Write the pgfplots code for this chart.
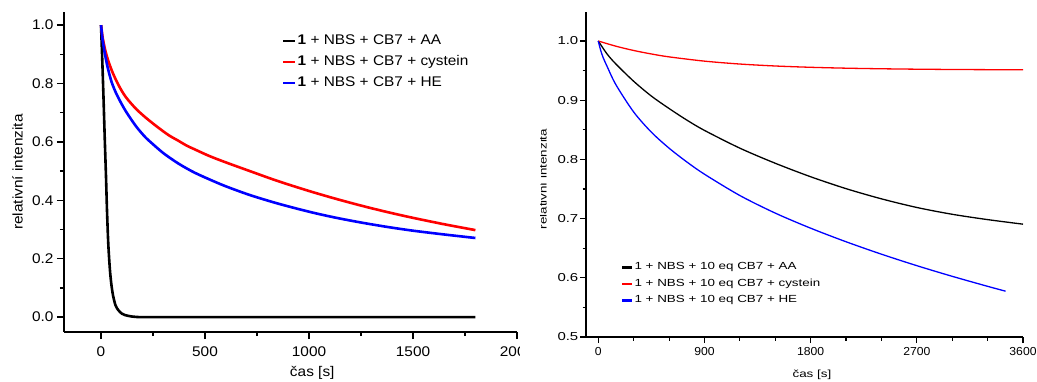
\documentclass[border=0pt]{standalone}
\usepackage{pgfplots}
\pgfplotsset{compat=1.18}
\usepackage{fontspec}
\setmainfont{Liberation Sans}
\newfontfamily\lfont[FakeStretch=1.1]{Liberation Sans}
\newfontfamily\rfont[FakeStretch=1.3]{Liberation Sans}
\newfontfamily\xfont[FakeStretch=1.05]{Liberation Sans}
\newcommand\lsize{\lfont\fontsize{14}{16}\selectfont}
\newcommand\rtick{\rfont\fontsize{11.5}{13}\selectfont}
\newcommand\rxtick{\xfont\fontsize{11.6}{13}\selectfont}
\newcommand\rsmall{\rfont\fontsize{10.3}{12}\selectfont}
\begin{document}
\begin{tikzpicture}
\useasboundingbox (0pt,0pt) rectangle (1037pt,381pt);
\begin{scope}
\clip (0pt,0pt) rectangle (519.5pt,381pt);
\begin{axis}[
  at={(64pt,49pt)}, anchor=south west,
  scale only axis, width=453pt, height=320pt,
  xmin=-178, xmax=2000, ymin=-0.051, ymax=1.045,
  axis x line*=bottom, axis y line*=left,
  axis line style={line width=1.5pt},
  tick align=outside, major tick length=7pt, minor tick length=4pt,
  every tick/.style={black, line width=1.3pt},
  xtick={0,500,1000,1500,2000}, minor xtick={250,750,1250,1750},
  ytick={0,0.2,0.4,0.6,0.8,1.0}, minor ytick={0.1,0.3,0.5,0.7,0.9},
  /pgf/number format/assume math mode=true,
  tick label style={font=\lsize},
  xticklabel style={yshift=-4pt, /pgf/number format/1000 sep={}},
  yticklabel style={/pgf/number format/.cd, fixed, fixed zerofill, precision=1},
  xlabel={čas [s]}, xlabel style={at={(axis description cs:0.548,-0.128)}, anchor=center, font=\lsize},
  ylabel={relativní intenzita}, ylabel style={at={(axis description cs:-0.1026,0.5)}, anchor=center, font=\lsize},
  legend style={at={(axis description cs:0.481,0.934)}, anchor=north west, draw=none, fill=none, inner sep=0pt, font=\lsize, row sep=6pt, nodes={inner sep=1pt, text height=10pt, text depth=3pt}},
  legend cell align=left,
  legend image code/.code={\draw[#1] (0pt,0pt) -- (12pt,0pt);},
]
\addplot[black, line width=2.6pt, line join=round, smooth, tension=0.5] coordinates {
(0,1.0)(6,0.88)(12,0.75)(18,0.61)(24,0.48)(29,0.36)(35,0.25)(43,0.16)(51,0.105)(59,0.07)(70,0.04)(83,0.024)(100,0.012)(115,0.007)(140,0.003)(163,0.001)(200,0)(400,0)(1800,0)};
\addlegendentry{\textbf{1} + NBS + CB7 + AA}
\addplot[red, line width=2.6pt, line join=round, smooth] coordinates {
(0,1.0)(8,0.957)(19,0.918)(33,0.882)(51,0.846)(70,0.815)(90,0.787)(110,0.763)(131,0.743)(170,0.712)(212,0.685)(250,0.663)(292,0.640)(330,0.621)(372,0.604)(410,0.588)(452,0.574)(520,0.552)(596,0.531)(716,0.500)(850,0.466)(1000,0.432)(1125,0.406)(1250,0.382)(1375,0.360)(1500,0.340)(1650,0.318)(1800,0.298)};
\addlegendentry{\textbf{1} + NBS + CB7 + cystein}
\addplot[blue, line width=2.6pt, line join=round, smooth] coordinates {
(0,1.0)(8,0.948)(19,0.90)(33,0.852)(51,0.805)(70,0.771)(90,0.742)(110,0.716)(131,0.692)(170,0.652)(212,0.617)(250,0.592)(292,0.566)(330,0.546)(372,0.526)(410,0.510)(452,0.494)(520,0.472)(600,0.448)(716,0.418)(850,0.389)(1000,0.361)(1125,0.341)(1250,0.324)(1375,0.309)(1500,0.296)(1650,0.283)(1800,0.271)};
\addlegendentry{\textbf{1} + NBS + CB7 + HE}
\end{axis}
\end{scope}
\begin{scope}
\clip (540pt,0pt) rectangle (1037pt,381pt);
\begin{axis}[
  at={(586pt,44pt)}, anchor=south west,
  scale only axis, width=437pt, height=325pt,
  xmin=-104, xmax=3600, ymin=0.5, ymax=1.049,
  axis x line*=bottom, axis y line*=left,
  axis line style={line width=1.2pt},
  tick align=outside, major tick length=6pt, minor tick length=3.5pt,
  every tick/.style={black, line width=1.1pt},
  xtick={0,900,1800,2700,3600}, minor xtick={300,600,1200,1500,2100,2400,3000,3300},
  ytick={0.5,0.6,0.7,0.8,0.9,1.0}, minor ytick={0.55,0.65,0.75,0.85,0.95,1.05},
  /pgf/number format/assume math mode=true,
  yticklabel style={font=\rtick, inner xsep=1.5pt, /pgf/number format/.cd, fixed, fixed zerofill, precision=1},
  xticklabel style={font=\rxtick, yshift=-1pt, /pgf/number format/1000 sep={}},
  xlabel={čas [s]}, xlabel style={at={(axis description cs:0.517,-0.117)}, anchor=center, font=\rsmall},
  ylabel={relativní intenzita}, ylabel style={at={(axis description cs:-0.0984,0.486)}, anchor=center, font=\rsmall},
  legend style={at={(axis description cs:0.080,0.233)}, anchor=north west, draw=none, fill=none, inner sep=0pt, font=\rsmall, row sep=4.8pt, nodes={inner sep=1pt, text height=7.5pt, text depth=2.2pt}},
  legend cell align=left,
  legend image code/.code={\draw[#1, line width=2.4pt] (0pt,0pt) -- (10pt,0pt);},
]
\addplot[black, line width=1.3pt, line join=round, smooth] coordinates {
(0,1.0)(75,0.978)(150,0.961)(300,0.932)(450,0.907)(600,0.886)(750,0.8665)(900,0.849)(1200,0.819)(1500,0.7935)(1800,0.7707)(2100,0.7506)(2400,0.7334)(2700,0.7188)(3000,0.7073)(3300,0.6983)(3600,0.6906)};
\addlegendentry{1 + NBS + 10 eq CB7 + AA}
\addplot[red, line width=1.3pt, line join=round, smooth] coordinates {
(0,1.0)(150,0.9912)(300,0.9840)(450,0.9781)(600,0.9732)(900,0.9660)(1200,0.9611)(1500,0.9578)(1800,0.9556)(2100,0.9541)(2400,0.9531)(2700,0.9524)(3000,0.9519)(3300,0.9516)(3600,0.9514)};
\addlegendentry{1 + NBS + 10 eq CB7 + cystein}
\addplot[blue, line width=1.3pt, line join=round, smooth] coordinates {
(0,1.0)(20,0.9845)(40,0.9727)(75,0.957)(150,0.926)(300,0.8801)(450,0.846)(600,0.819)(750,0.7958)(900,0.775)(1200,0.739)(1500,0.7093)(1800,0.6838)(2100,0.6609)(2400,0.6399)(2700,0.6205)(3000,0.6025)(3300,0.5856)(3452,0.5774)};
\addlegendentry{1 + NBS + 10 eq CB7 + HE}
\end{axis}
\end{scope}
\end{tikzpicture}
\end{document}
